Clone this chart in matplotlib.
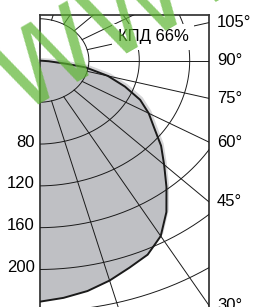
import numpy as np
import matplotlib.pyplot as plt
import matplotlib.transforms as mtransforms

# light distribution curve, right half (0 deg = nadir)
angles = [0, 5, 10, 15, 20, 25, 30, 35, 40, 45, 50, 55, 60, 65, 70, 75, 80, 82, 85, 90]
intensity = [231, 228, 224, 218, 211, 205, 194, 177, 158, 141, 127, 112, 101, 89, 73, 57, 38, 22, 8, 0]

grid_radii = [40, 80, 120, 160, 200, 240, 280]
grid_angles = [15, 30, 45, 60, 75, 90, 105, 120, 135, 150, 165]
angle_labels = [105, 90, 75, 60, 45, 30]
radius_labels = [80, 120, 160, 200]
kpd_text = 'КПД 66%'

W, H = 257, 307
fig = plt.figure(figsize=(W / 100, H / 100), dpi=100)
plt.rcParams['font.family'] = ['Liberation Sans', 'DejaVu Sans']

# axes box in pixels: left 40, right 209, top 15, bottom below the picture
x0px, y0px, sx, sy = 38.5, 60.5, 1.26, 1.045
left, right, top, bottom = 40, 209, 15, 330
ax = fig.add_axes([left / W, 1 - bottom / H, (right - left) / W, (bottom - top) / H])
ax.set_xlim((left - x0px) / sx, (right - x0px) / sx)
ax.set_ylim(-(bottom - y0px) / sy, (y0px - top) / sy)
ax.set_xticks([])
ax.set_yticks([])
for side in ['left', 'top', 'right']:
    ax.spines[side].set_color('#3a3a3a')
    ax.spines[side].set_linewidth(1.3)
ax.spines['bottom'].set_visible(False)

th = np.radians(angles)
I = np.array(intensity)
cx = I * np.sin(th)
cy = -I * np.cos(th)
px = np.concatenate([[0], cx, [0]])
py = np.concatenate([[0], cy, [0]])

shadow = mtransforms.offset_copy(ax.transData, fig=fig, x=2.5, y=2.5, units='dots')
ax.fill(px, py, color='#d6d6d8', lw=0, transform=shadow, zorder=1)
ax.fill(px, py, color='#bfc0c4', lw=0, zorder=2)

# grid
t = np.linspace(0, np.pi, 400)
for r in grid_radii:
    ax.plot(r * np.sin(t), -r * np.cos(t), color='#1a1a1a', lw=0.7, zorder=3)
for a in grid_angles:
    ar = np.radians(a)
    ax.plot([40 * np.sin(ar), 500 * np.sin(ar)], [-40 * np.cos(ar), -500 * np.cos(ar)],
            color='#1a1a1a', lw=0.7, zorder=3)

ax.plot(cx, cy, color='#1a1a1a', lw=1.4, zorder=4)

# efficiency label with white box
ax.text(90.9, 22.5, kpd_text, fontsize=12, ha='center', va='center', zorder=5,
        bbox=dict(facecolor='white', edgecolor='none', pad=4))

xr = ax.get_xlim()[1]
tr = mtransforms.blended_transform_factory(ax.transAxes, ax.transData)
for a in angle_labels:
    ar = np.radians(a)
    yh = -xr * np.cos(ar) / np.sin(ar)
    ax.text(1 + 8 / (right - left), yh, f'{a}°', fontsize=12, ha='left', va='center',
            transform=tr, clip_on=False)
for r in radius_labels:
    ax.text(-5 / (right - left), -r + 2, str(r), fontsize=12, ha='right', va='center',
            transform=tr, clip_on=False)

# watermark
fig.text(19 / W, 1 - 114 / H, 'WWW', fontsize=75, color='#5cb531', alpha=0.7,
         family='DejaVu Sans', rotation=30, rotation_mode='anchor',
         ha='left', va='baseline', zorder=10)

fig.savefig('out.png', dpi=100)
